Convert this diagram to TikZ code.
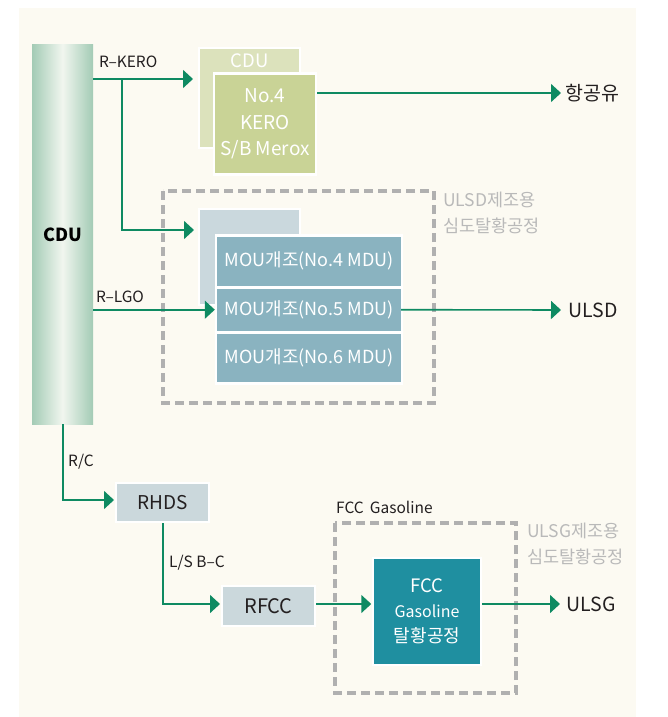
\documentclass[tikz,border=0pt]{standalone}
\usepackage{fontspec}
\setmainfont{Noto Sans CJK KR}
\usetikzlibrary{arrows.meta}
\definecolor{bgc}{HTML}{FCFAF2}
\definecolor{flowc}{HTML}{0E8A62}
\definecolor{cduedge}{HTML}{A3CBB5}
\definecolor{cdumid}{HTML}{F1F6EF}
\definecolor{kback}{HTML}{DCE2BC}
\definecolor{kfront}{HTML}{C9D396}
\definecolor{mback}{HTML}{CAD8DD}
\definecolor{mrow}{HTML}{8AB3C0}
\definecolor{pale}{HTML}{CBD8DC}
\definecolor{fccc}{HTML}{1F8FA0}
\definecolor{dashc}{HTML}{B0B0B0}
\definecolor{greytxt}{HTML}{B9B9B9}
\definecolor{txtc}{HTML}{231F20}
\tikzset{
  flow/.style={draw=flowc, line width=1.6pt, -{Triangle[length=10pt,width=18pt]}},
  lbl/.style={font=\fontsize{15.5}{18}\selectfont, text=txtc, inner sep=0pt},
  endlbl/.style={font=\fontsize{19.5}{22}\selectfont, text=txtc, inner sep=0pt, anchor=west},
  greylbl/.style={font=\fontsize{17.5}{26}\selectfont, text=greytxt, inner sep=0pt, anchor=north west, align=left},
  boxbase/.style={rectangle, inner sep=0pt, draw=white, line width=2pt},
  wtxt/.style={text=white, font=\fontsize{18}{26}\selectfont, align=center},
  dashbox/.style={draw=dashc, line width=3.2pt, dash pattern=on 9pt off 5pt},
}
\begin{document}
\begin{tikzpicture}[x=1pt,y=-1pt]
\useasboundingbox (0,0) rectangle (668,717);
\fill[white] (0,0) rectangle (668,717);
\fill[bgc] (19,8) rectangle (636,717);

% dashed frames
\draw[dashbox] (163,191) rectangle (434,403);
\draw[dashbox] (335,523) rectangle (516,693);

% CDU column
\node[rectangle, inner sep=0pt, minimum width=61pt, minimum height=379pt,
  left color=cduedge, right color=cduedge, middle color=cdumid,
  font=\fontsize{18}{20}\selectfont\bfseries, text=black] (cdu) at (62.5,234.5) {CDU};

% KERO boxes
\node[boxbase, fill=kback, minimum width=101pt, minimum height=100pt] (kb) at (249.5,98) {};
\node[wtxt, inner sep=0pt, font=\fontsize{18.5}{26}\selectfont] (kbt) at (249.5,61) {CDU};
\node[boxbase, fill=kfront, line width=2.5pt, minimum width=102pt, minimum height=101pt, wtxt, font=\fontsize{19}{26.5}\selectfont] (kf) at (265,124) {No.4\\KERO\\S/B Merox};

% MDU boxes
\node[boxbase, fill=mback, minimum width=101pt, minimum height=96pt] (mb) at (249.5,257) {};
\node[boxbase, fill=white, minimum width=186pt, minimum height=149pt] (mf) at (309,309.5) {};
\node[rectangle, inner sep=0pt, fill=mrow, minimum width=184pt, minimum height=49pt, wtxt] (r1) at (309,261.2) {MOU개조(No.4 MDU)};
\node[rectangle, inner sep=0pt, fill=mrow, minimum width=184pt, minimum height=42pt, wtxt] (r2) at (309,309.7) {MOU개조(No.5 MDU)};
\node[rectangle, inner sep=0pt, fill=mrow, minimum width=184pt, minimum height=48pt, wtxt] (r3) at (309,358) {MOU개조(No.6 MDU)};

% lower boxes
\node[boxbase, fill=pale, minimum width=93pt, minimum height=39pt, font=\fontsize{19}{22}\selectfont, text=txtc] (rhds) at (162.5,502.5) {RHDS};
\node[boxbase, fill=pale, minimum width=93pt, minimum height=40pt, font=\fontsize{20}{22}\selectfont, text=txtc] (rfcc) at (268.5,606) {RFCC};
\node[boxbase, fill=fccc, line width=1.5pt, minimum width=108pt, minimum height=107pt, wtxt] (fcc) at (427,611.5)
  {{\fontsize{18.5}{24}\selectfont FCC}\\[-1pt]{\fontsize{16}{24}\selectfont Gasoline}\\[-1pt]{\fontsize{18}{24}\selectfont 탈황공정}};

% end labels
\node[endlbl] (jet) at (565,93) {항공유};
\node[endlbl] (ulsd) at (568,310) {ULSD};
\node[endlbl] (ulsg) at (566,604) {ULSG};

% grey labels
\node[greylbl] (g1) at (443,192) {ULSD제조용\\심도탈황공정};
\node[greylbl] (g2) at (527,523) {ULSG제조용\\심도탈황공정};

% stream labels
\node[lbl, anchor=west] (lk) at (99,62) {R–KERO};
\node[lbl, anchor=west] (lg) at (96,297) {R–LGO};
\node[lbl, anchor=west] (lrc) at (68,462) {R/C};
\node[lbl, anchor=west] (lbc) at (169,563) {L/S B–C};
\node[lbl, anchor=west] (lfg) at (336,507) {FCC\ \,Gasoline};

% coordinates
\coordinate (ktip) at (193,79);
\coordinate (kbr) at (122,79);
\coordinate (mtip) at (194,230);
\coordinate (rcb) at (63,500);
\coordinate (lsb) at (163,604);

% connectors
\draw[flow] (cdu.east |- ktip) -- (ktip);
\draw[flow] (kbr) |- (mtip);
\draw[flow] (cdu.east |- r2.west) -- ([xshift=-2pt]r2.west);
\draw[flow] (kf.east |- jet.west) -- ([xshift=-4pt]jet.west);
\draw[flow] (r2.east) -- ([xshift=-7pt]ulsd.west);
\draw[flow] (cdu.south -| rcb) |- ([xshift=-1pt]rhds.west |- rcb);
\draw[flow] (rhds.south -| lsb) |- ([xshift=-1pt]rfcc.west |- lsb);
\draw[flow] (rfcc.east |- lsb) -- ([xshift=-1pt]fcc.west |- lsb);
\draw[flow] (fcc.east |- lsb) -- ([xshift=-6pt]ulsg.west);
\end{tikzpicture}
\end{document}
